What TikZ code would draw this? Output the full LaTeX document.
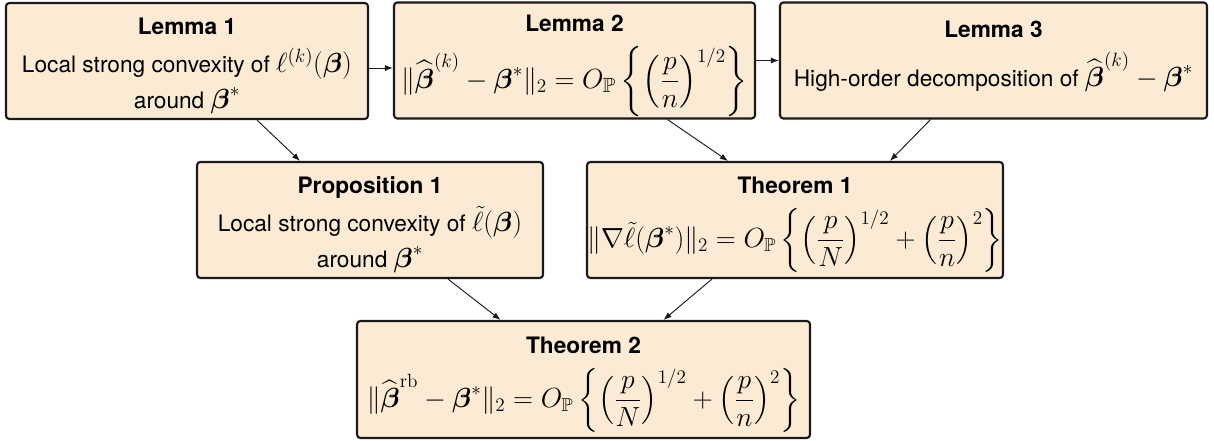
\documentclass[tikz,border=0pt]{standalone}
\usepackage{amsmath,amssymb}
\usepackage[no-math]{fontspec}
\setmainfont{TeX Gyre Heros}
\usetikzlibrary{arrows.meta,calc}
\definecolor{bg}{HTML}{FCEBD4}
\definecolor{ink}{HTML}{1A1A1A}
\tikzset{
  box/.style={draw=ink,line width=1.6pt,rounded corners=2.5pt,fill=bg,align=center,inner sep=0pt,
    font=\fontsize{17}{25}\selectfont},
  ar/.style={-{Latex[length=6pt,width=4.5pt]},line width=0.7pt,draw=ink},
}
\newcommand{\bb}{\boldsymbol{\beta}}
\newcommand{\tp}{\rule{0pt}{20pt}}
\newcommand{\mth}[1]{{\fontsize{20}{25}\selectfont$#1$}}
\newcommand{\dmth}[2][20]{{\fontsize{#1}{25}\selectfont$\displaystyle #2$}}

\begin{document}
\begin{tikzpicture}[x=0.75pt,y=-0.75pt]
  \useasboundingbox (0,0) rectangle (1214,441);
  \node[box,minimum width=362*0.75pt,minimum height=116*0.75pt] (l1) at (187,61)
    {\tp\textbf{Lemma 1}\\[3pt] Local strong convexity of \mth{\ell^{(k)}(\bb)}\\[2pt] around \mth{\bb^*}};
  \node[box,minimum width=361*0.75pt,minimum height=116*0.75pt] (l2) at (574.5,60.5)
    {\tp\textbf{Lemma 2}\\[10pt] \dmth[22]{\|\widehat{\bb}^{(k)}-\bb^*\|_2=O_{\mathbb{P}}\left\{\left(\frac{p}{n}\right)^{1/2}\right\}}};
  \node[box,minimum width=427*0.75pt,minimum height=116*0.75pt] (l3) at (993.5,60.5)
    {\textbf{Lemma 3}\\[10pt] High-order decomposition of \mth{\widehat{\bb}^{(k)}-\bb^*}\rule[-10pt]{0pt}{0pt}};
  \node[box,minimum width=346*0.75pt,minimum height=116*0.75pt] (p1) at (370,220)
    {\tp\textbf{Proposition 1}\\[3pt] Local strong convexity of \mth{\tilde{\ell}(\bb)}\\[2pt] around \mth{\bb^*}};
  \node[box,minimum width=416*0.75pt,minimum height=116*0.75pt] (t1) at (795,220)
    {\tp\textbf{Theorem 1}\\[10pt] \dmth{\|\nabla\tilde{\ell}(\bb^*)\|_2=O_{\mathbb{P}}\left\{\left(\frac{p}{N}\right)^{1/2}+\left(\frac{p}{n}\right)^{2}\right\}}};
  \node[box,minimum width=453*0.75pt,minimum height=117*0.75pt] (t2) at (583.5,379.5)
    {\tp\textbf{Theorem 2}\\[10pt] \dmth{\|\widehat{\bb}^{\mathrm{rb}}-\bb^*\|_2=O_{\mathbb{P}}\left\{\left(\frac{p}{N}\right)^{1/2}+\left(\frac{p}{n}\right)^{2}\right\}}};
  % links
  \draw[ar] ($(l1.east)+(0,7)$) -- ($(l2.west)+(0,7.5)$);
  \draw[ar] (l2) -- (l3);
  \draw[ar] ($(l1.south)+(70,0)$) -- ($(p1.north)+(-70,0)$);
  \draw[ar] ($(l2.south)+(93,0)$) -- ($(t1.north)+(-67,0)$);
  \draw[ar] ($(l3.south)+(-63,0)$) -- ($(t1.north)+(95,0)$);
  \draw[ar] ($(p1.south)+(78,0)$) -- ($(t2.north)+(-83,0)$);
  \draw[ar] ($(t1.south)+(-83,0)$) -- ($(t2.north)+(80,0)$);
\end{tikzpicture}
\end{document}
